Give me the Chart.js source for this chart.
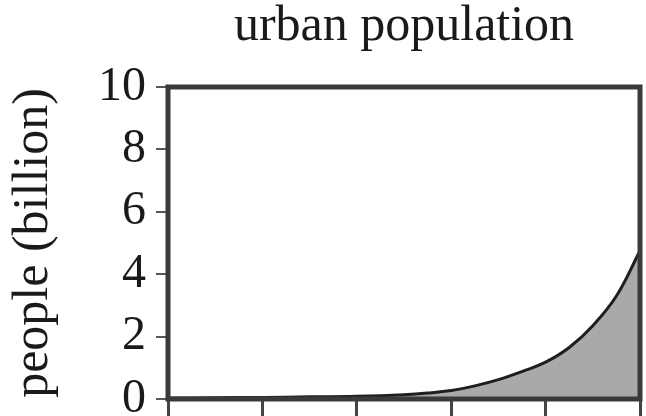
<!DOCTYPE html>
<html>
<head>
<meta charset="utf-8">
<script src="https://cdn.jsdelivr.net/npm/chart.js@4/dist/chart.umd.min.js"></script>
<style>
  html, body { margin: 0; padding: 0; background: #ffffff; }
  #c { display: block; }
</style>
</head>
<body>
<canvas id="c" width="646" height="416"></canvas>
<script>
// Data (x is an unlabeled time axis, 0..100)
const timeSteps = [0, 10, 20, 30, 40, 50, 55, 60, 65, 70, 75, 80, 85, 90, 95, 100];
const urbanBillion = [0.03, 0.04, 0.05, 0.07, 0.09, 0.14, 0.19, 0.27, 0.42, 0.62, 0.88, 1.18, 1.65, 2.35, 3.3, 4.75];
const yTickValues = [0, 2, 4, 6, 8, 10];
const titleText = 'urban population';
const yAxisTitle = 'people (billion)';

const points = timeSteps.map((t, i) => ({ x: t, y: urbanBillion[i] }));
const serif = "'Liberation Serif', 'DejaVu Serif', serif";

const framePlugin = {
  id: 'frame',
  afterDatasetsDraw(chart) {
    const { ctx, chartArea: a } = chart;
    ctx.save();
    ctx.strokeStyle = '#3a3a3a';
    ctx.lineWidth = 5;
    ctx.strokeRect(a.left, a.top, a.right - a.left, a.bottom - a.top);
    ctx.restore();
  }
};

new Chart(document.getElementById('c'), {
  type: 'line',
  data: {
    datasets: [{
      data: points,
      borderColor: '#1e1e1e',
      borderWidth: 3,
      backgroundColor: '#a9a9ab',
      fill: 'origin',
      pointRadius: 0,
      tension: 0.4
    }]
  },
  options: {
    responsive: false,
    animation: false,
    layout: { padding: { left: 0, right: 6, top: 0, bottom: 0 } },
    plugins: {
      legend: { display: false },
      tooltip: { enabled: false },
      title: {
        display: true,
        fullSize: false,
        text: titleText,
        color: '#1a1a1a',
        font: { family: serif, size: 50, weight: 'normal', lineHeight: 1.0 },
        padding: { top: 2, bottom: 35 }
      }
    },
    scales: {
      x: {
        type: 'linear',
        min: 0,
        max: 100,
        border: { display: false },
        grid: { drawOnChartArea: false, drawTicks: true, tickLength: 17, color: '#444', lineWidth: 3 },
        ticks: { display: false, stepSize: 20 }
      },
      y: {
        min: 0,
        max: 10,
        border: { display: false },
        afterBuildTicks(scale) { scale.ticks = yTickValues.map(v => ({ value: v })); },
        grid: { drawOnChartArea: false, drawTicks: true, tickLength: 12, color: '#555', lineWidth: 2 },
        ticks: {
          color: '#1a1a1a',
          padding: 10,
          font: { family: serif, size: 48, lineHeight: 0.25 }
        },
        title: {
          display: true,
          text: yAxisTitle,
          color: '#1a1a1a',
          font: { family: serif, size: 50, weight: 'normal' },
          padding: { top: 4, bottom: 24 }
        }
      }
    }
  },
  plugins: [framePlugin]
});
</script>
</body>
</html>
